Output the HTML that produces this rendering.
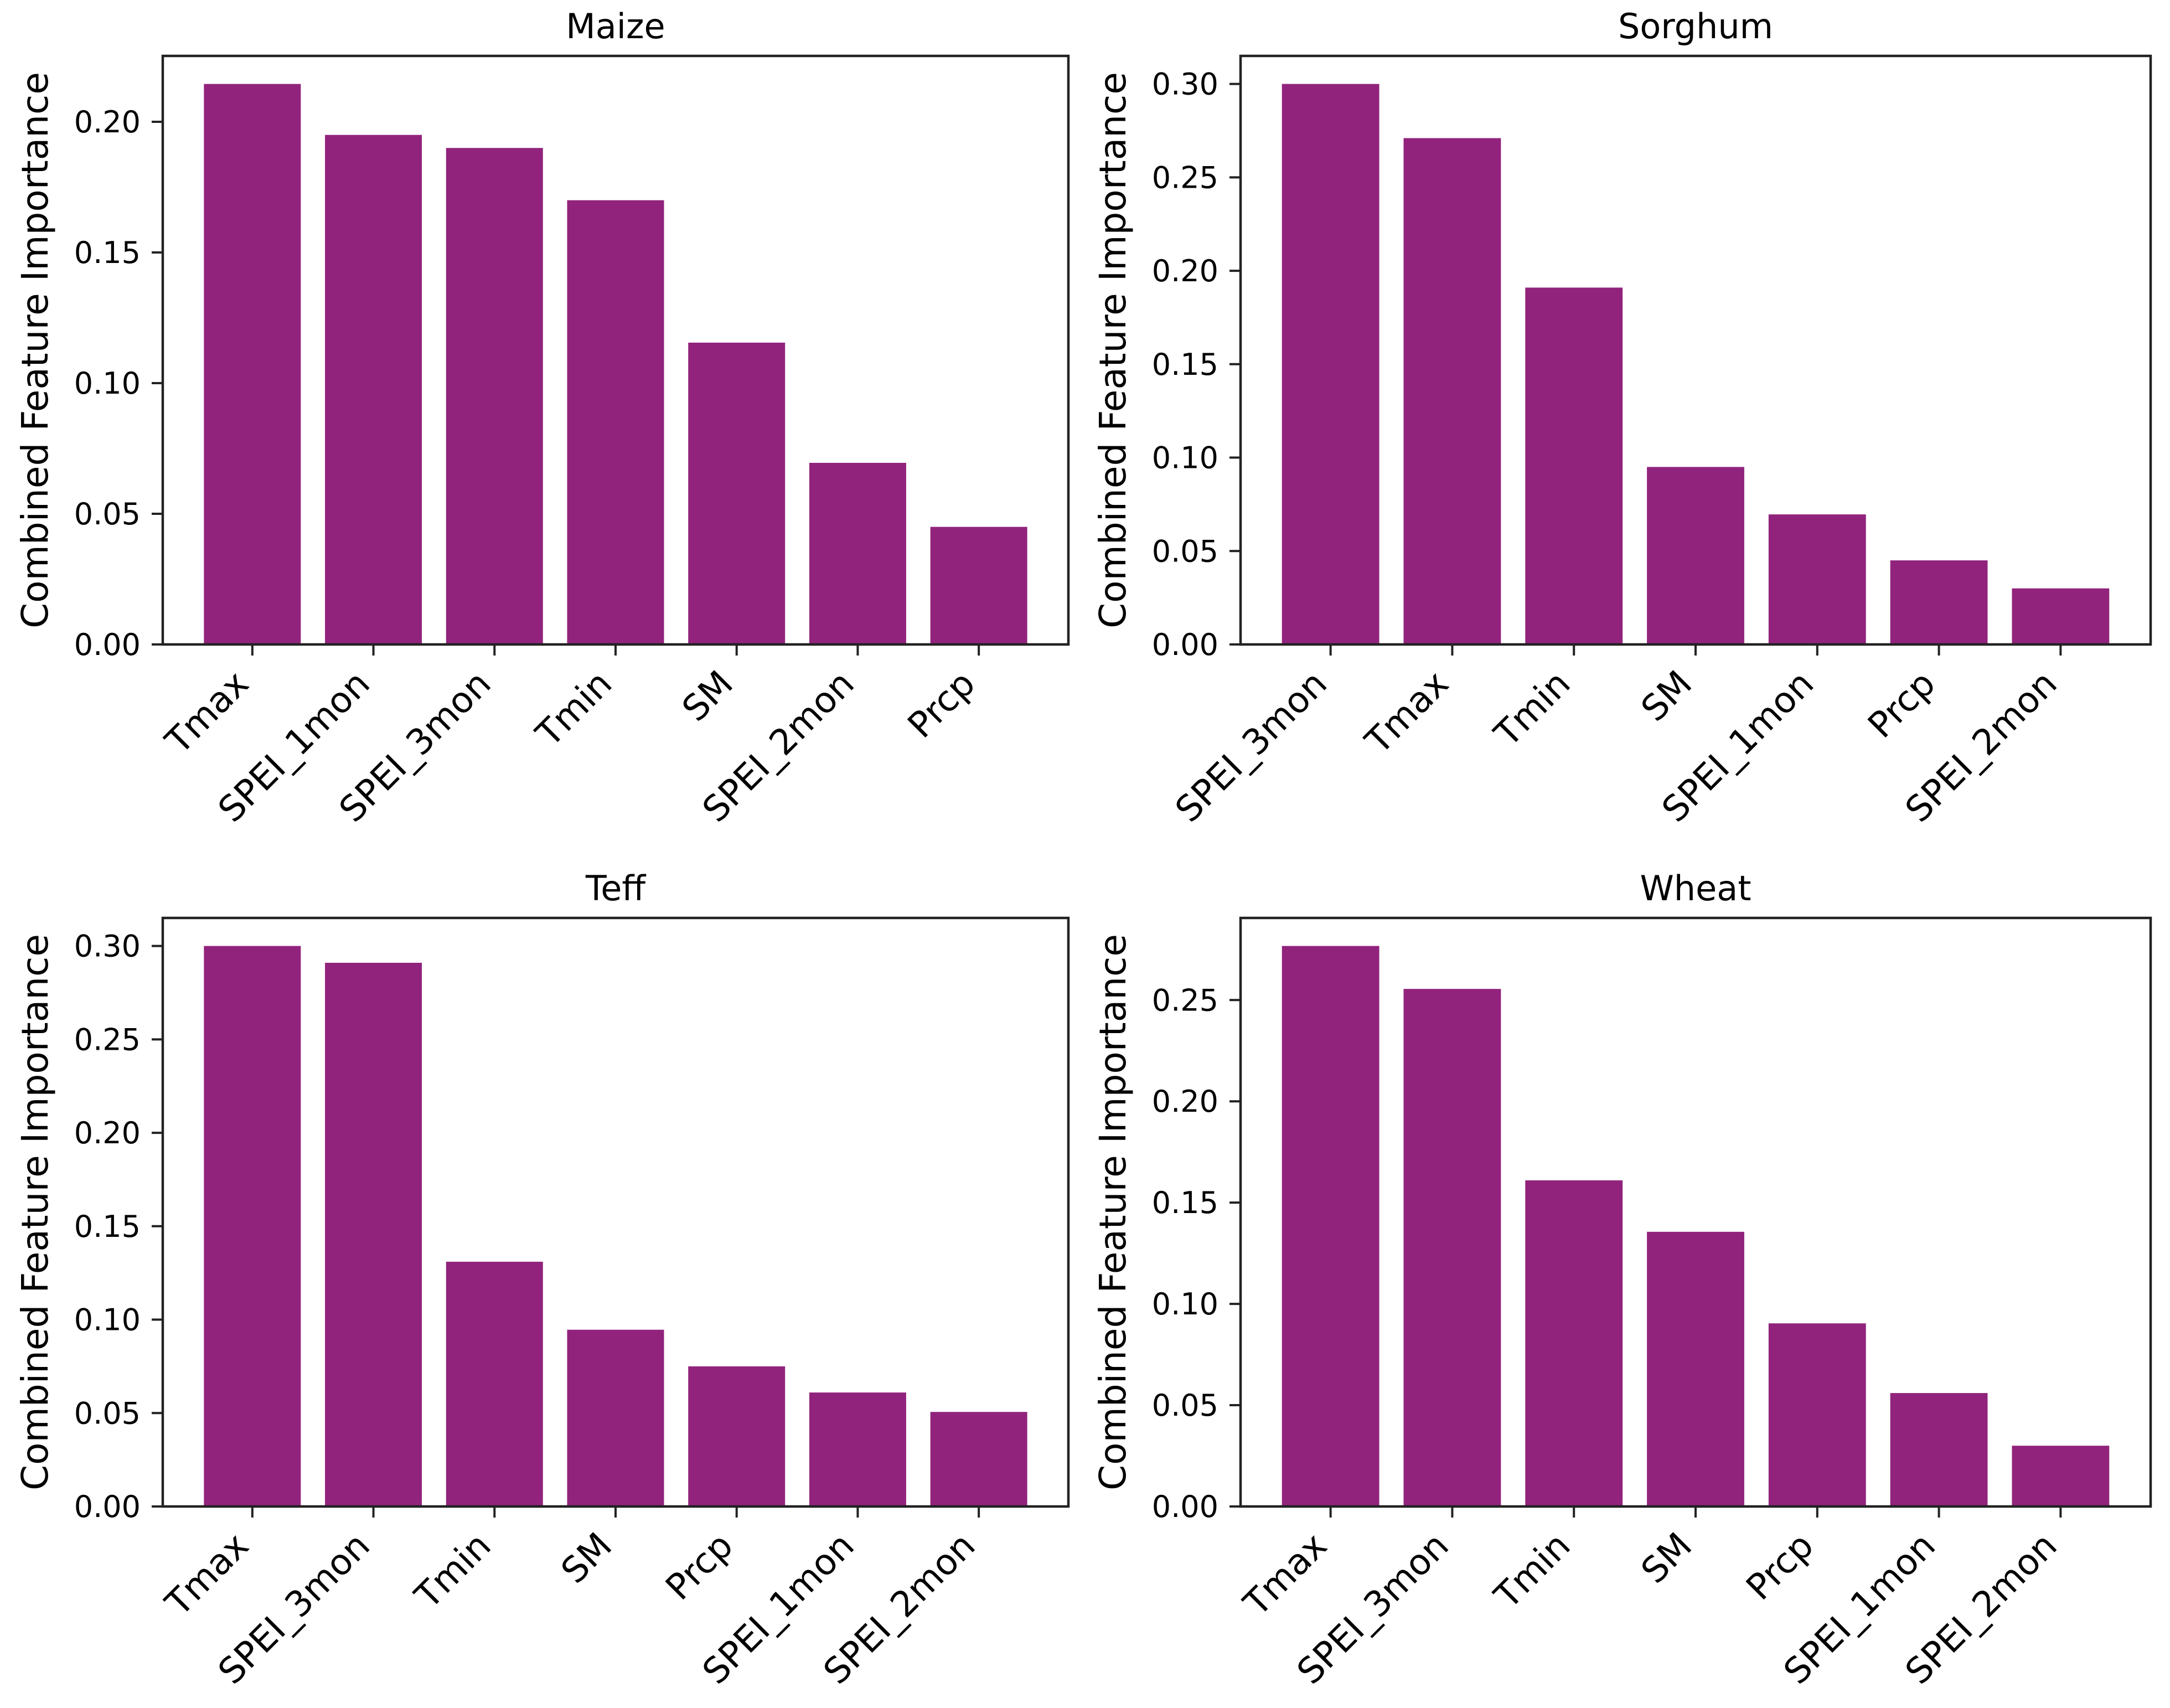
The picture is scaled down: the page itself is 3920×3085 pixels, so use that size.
<!DOCTYPE html>
<html><head><meta charset="utf-8"><style>
html,body{margin:0;padding:0;background:#fff}
svg text{font-family:"DejaVu Sans","Liberation Sans",sans-serif;fill:#000}
</style></head><body>
<svg id="fig" width="3920" height="3080" viewBox="0 0 3920 3080" xmlns="http://www.w3.org/2000/svg"></svg>
<script>
const maizeCats=["Tmax","SPEI_1mon","SPEI_3mon","Tmin","SM","SPEI_2mon","Prcp"];
const maizeVals=[0.2145,0.195,0.190,0.170,0.1155,0.0695,0.045];
const maizeTicks=["0.00","0.05","0.10","0.15","0.20"];
const sorghumCats=["SPEI_3mon","Tmax","Tmin","SM","SPEI_1mon","Prcp","SPEI_2mon"];
const sorghumVals=[0.300,0.271,0.191,0.095,0.0696,0.045,0.030];
const sorghumTicks=["0.00","0.05","0.10","0.15","0.20","0.25","0.30"];
const teffCats=["Tmax","SPEI_3mon","Tmin","SM","Prcp","SPEI_1mon","SPEI_2mon"];
const teffVals=[0.300,0.291,0.131,0.0946,0.075,0.061,0.0506];
const teffTicks=["0.00","0.05","0.10","0.15","0.20","0.25","0.30"];
const wheatCats=["Tmax","SPEI_3mon","Tmin","SM","Prcp","SPEI_1mon","SPEI_2mon"];
const wheatVals=[0.2767,0.2555,0.161,0.1356,0.0904,0.056,0.030];
const wheatTicks=["0.00","0.05","0.10","0.15","0.20","0.25"];

const NS="http://www.w3.org/2000/svg";
const svg=document.getElementById('fig');
function mk(tag,attrs,parent){const e=document.createElementNS(NS,tag);for(const k in attrs)e.setAttribute(k,attrs[k]);(parent||svg).appendChild(e);return e;}

function panel(key,title,cats,vals,ticks,L,T,R,B){
  const g=mk('g',{});
  
  
  const ymax=Math.max(...vals)*1.05;
  const n=cats.length;
  const xmin=-0.74,xmax=n-1+0.74;
  const xs=v=>L+(v-xmin)/(xmax-xmin)*(R-L);
  const ys=v=>B-v/ymax*(B-T);
  vals.forEach((v,i)=>{
    const r=mk('rect',{x:xs(i-0.4),y:ys(v),width:xs(i+0.4)-xs(i-0.4),height:B-ys(v),fill:'#91237d'},g);
    
    
  });
  const fr=mk('rect',{x:L,y:T,width:R-L,height:B-T,fill:'none',stroke:'#222',"stroke-width":4.5},g);
  
  
  ticks.forEach(t=>{
    const v=parseFloat(t);const y=ys(v);
    mk('line',{x1:L-20,x2:L,y1:y,y2:y,stroke:'#222',"stroke-width":4},g);
    const tx=mk('text',{x:L-40,y:y+19,"text-anchor":"end","font-size":54},g);
    tx.textContent=t;
    
    
  });
  cats.forEach((c,i)=>{
    const x=xs(i);
    mk('line',{x1:x,x2:x,y1:B,y2:B+20,stroke:'#222',"stroke-width":4},g);
    const ax=x-18,ay=B+60;
    const tx=mk('text',{x:ax,y:ay,"text-anchor":"end","font-size":64,"dominant-baseline":"central",transform:`rotate(-45 ${ax} ${ay})`},g);
    tx.textContent=c;
    
    
  });
  const tt=mk('text',{x:(L+R)/2,y:T-32,"text-anchor":"middle","font-size":62},g);
  tt.textContent=title;
  
  
  const yl=mk('text',{x:0,y:0,"text-anchor":"middle","font-size":66,transform:`translate(${L-208} ${(T+B)/2}) rotate(-90)`},g);
  yl.textContent="Combined Feature Importance";
  
  
}
panel('maize','Maize',maizeCats,maizeVals,maizeTicks,294,101,1930,1164);
panel('sorghum','Sorghum',sorghumCats,sorghumVals,sorghumTicks,2241,101,3885,1164);
panel('teff','Teff',teffCats,teffVals,teffTicks,294,1658,1930,2721);
panel('wheat','Wheat',wheatCats,wheatVals,wheatTicks,2241,1658,3885,2721);
</script>
</body></html>
